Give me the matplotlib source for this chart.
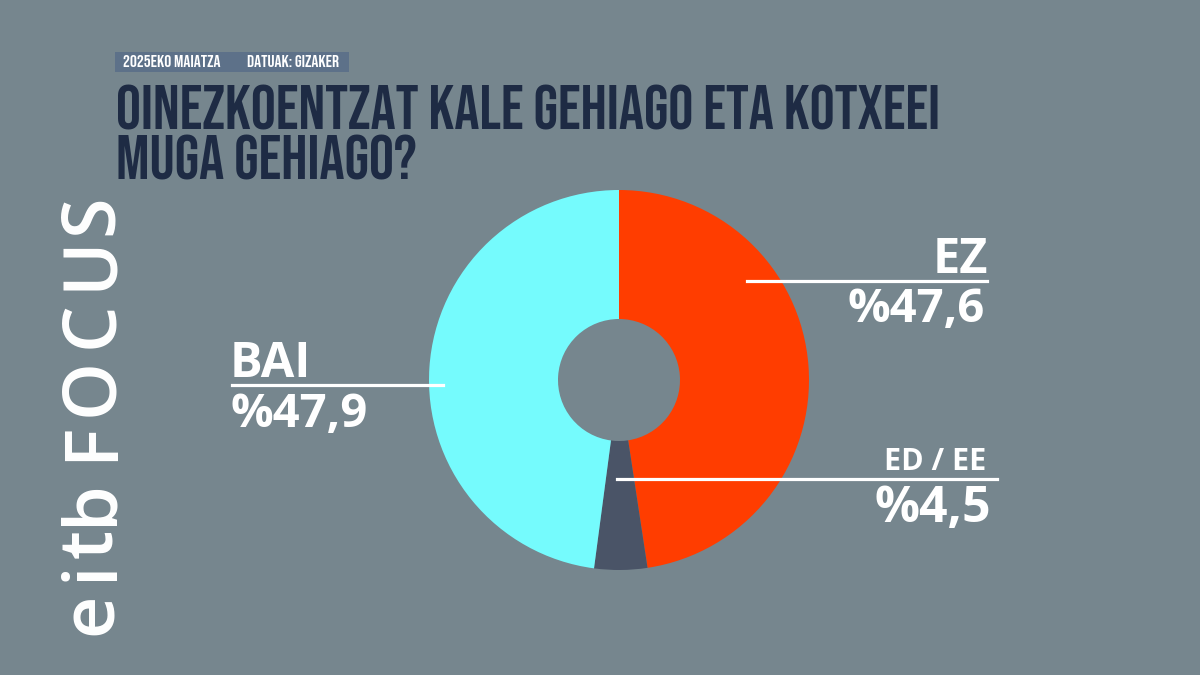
import matplotlib.pyplot as plt
from matplotlib.patches import Rectangle

# Data
labels = ["EZ", "ED / EE", "BAI"]
values = [47.6, 4.5, 47.9]
value_labels = ["%47,6", "%4,5", "%47,9"]
colors = ["#ff3d00", "#4a5467", "#75fbfd"]

title_lines = ["OINEZKOENTZAT KALE GEHIAGO ETA KOTXEEI", "MUGA GEHIAGO?"]
date_tag = "2025EKO MAIATZA"
source_tag = "DATUAK: GIZAKER"

# logo letters, and the pixel row where each one starts (text reads upward)
logo_letters = list("eitbFOCUS")
logo_starts = [637, 583, 560, 527, 463, 418, 350, 292, 237]

bg = "#76868e"
navy = "#1e2b44"
W, H = 1200, 675

condensed = ["Bebas Neue", "Oswald", "DejaVu Sans"]
sans = ["Open Sans", "DejaVu Sans"]


def Y(y):
    # pixel row from the top -> data y
    return H - y


fig = plt.figure(figsize=(12, 6.75), dpi=100, facecolor=bg)
ax = fig.add_axes([0, 0, 1, 1])
ax.set_facecolor(bg)

# donut
ax.pie(values, colors=colors, startangle=90, counterclock=False,
       center=(619, Y(380)), radius=190,
       wedgeprops=dict(width=129, linewidth=0))
ax.set_xlim(0, W)
ax.set_ylim(0, H)
ax.set_aspect("equal")
ax.axis("off")

# top tags
ax.add_patch(Rectangle((115, Y(72)), 234, 20, color="#5d7189", lw=0))
tag_font = dict(family=condensed, color="white", fontsize=12.5, va="baseline")
ax.text(123, Y(67), date_tag, **tag_font)
ax.text(247, Y(67), source_tag, **tag_font)

# title
for i, line in enumerate(title_lines):
    ax.text(116, Y(130 + 50 * i), line, family=condensed, color=navy,
            fontsize=45, va="baseline")

# logo, one letter at a time to get the wide spacing
for ch, start in zip(logo_letters, logo_starts):
    ax.text(112, Y(start - 2), ch, family=sans, weight="semibold",
            color="white", rotation=90, rotation_mode="anchor",
            ha="left", va="baseline", fontsize=53)

lab = dict(family=sans, weight="bold", color="white", va="baseline")

# BAI
ax.plot([232, 443], [Y(385), Y(385)], color="white", lw=2.3)
ax.text(230, Y(377), labels[2], fontsize=35, ha="left", **lab)
ax.text(230, Y(427), value_labels[2], fontsize=34, ha="left", **lab)

# EZ
ax.plot([747, 987], [Y(281), Y(281)], color="white", lw=2.3)
ax.text(988, Y(273), labels[0], fontsize=35, ha="right", **lab)
ax.text(985, Y(322), value_labels[0], fontsize=34, ha="right", **lab)

# ED / EE
ax.plot([617, 997], [Y(479), Y(479)], color="white", lw=2.3)
ax.text(986, Y(470), labels[1], fontsize=22, ha="right", **lab)
ax.text(991, Y(522), value_labels[1], fontsize=36, ha="right", **lab)

fig.savefig("out.png", dpi=100, facecolor=bg)
